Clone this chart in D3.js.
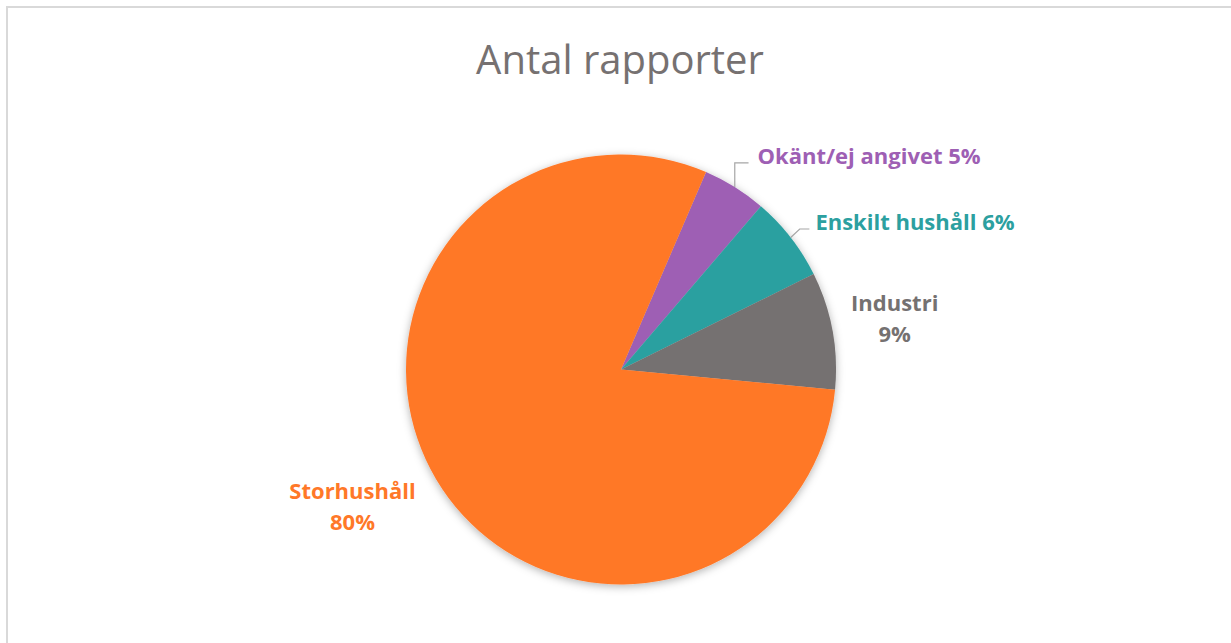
<!DOCTYPE html>
<html>
<head>
<meta charset="utf-8">
<script src="https://cdn.jsdelivr.net/npm/d3@7"></script>
<style>
  body { margin: 0; background: #fff; }
  svg { display: block; }
</style>
</head>
<body>
<div id="chart"></div>
<script>
// data (share of reports, %)
var categories = ['Okänt/ej angivet', 'Enskilt hushåll', 'Industri', 'Storhushåll'];
var values = [4.8, 6.4, 8.8, 79.9];
var colors = ['#9e5fb4', '#2ca0a0', '#757171', '#ff7828'];
var title = 'Antal rapporter';

var width = 1231, height = 643;
var cx = 621, cy = 369.5, r = 215;

// label layout per slice: radius factor, offsets, one line or two, leader
var labelLayout = {
    'Okänt/ej angivet': { k: 1.165, dx: 4, dy: 0, twoLines: false, leader: 'elbow' },
    'Enskilt hushåll': { k: 1.11, dx: 6, dy: 0, twoLines: false, leader: 'elbow' },
    'Industri': { k: 1.29, dx: 1, dy: 0, twoLines: true, leader: null },
    'Storhushåll': { k: 1.36, dx: -17, dy: -12, twoLines: true, leader: null }
};

var svg = d3.select('#chart').append('svg')
    .attr('width', width)
    .attr('height', height);

// chart area border (runs off right and bottom edges)
svg.append('rect')
    .attr('x', 7).attr('y', 7)
    .attr('width', width).attr('height', height)
    .attr('fill', '#fff')
    .attr('stroke', '#d9d9d9')
    .attr('stroke-width', 2);

svg.append('text')
    .attr('x', 620)
    .attr('y', 74)
    .attr('text-anchor', 'middle')
    .style('font-family', '"Open Sans", sans-serif')
    .style('font-weight', 400)
    .style('font-size', '40px')
    .style('fill', '#767171')
    .text(title);

var defs = svg.append('defs');
var f = defs.append('filter').attr('id', 'shadow')
    .attr('x', '-20%').attr('y', '-20%').attr('width', '140%').attr('height', '140%');
f.append('feDropShadow')
    .attr('dx', 0).attr('dy', 2)
    .attr('stdDeviation', 4)
    .attr('flood-color', '#000')
    .attr('flood-opacity', 0.3);

var startAngle = 23.3 * Math.PI / 180;
var pie = d3.pie().sort(null).value(function(d){ return d; })
    .startAngle(startAngle).endAngle(startAngle + 2 * Math.PI);
var arcs = pie(values);
var total = d3.sum(values);

var arc = d3.arc().innerRadius(0).outerRadius(r);

var g = svg.append('g').attr('transform', 'translate(' + cx + ',' + cy + ')');

g.append('g').attr('filter', 'url(#shadow)')
    .selectAll('path')
    .data(arcs)
    .enter().append('path')
    .attr('d', arc)
    .attr('fill', function(d, i){ return colors[i]; });

function polar(a, rad){
    return [Math.sin(a) * rad, -Math.cos(a) * rad];
}

arcs.forEach(function(d, i){
    var name = categories[i];
    var lay = labelLayout[name];
    var mid = (d.startAngle + d.endAngle) / 2;
    var p = polar(mid, r * lay.k);
    var pct = Math.round(d.value / total * 100) + '%';
    var lx = p[0] + lay.dx, ly = p[1] + lay.dy;

    var t = g.append('text')
        .style('font-family', '"Open Sans", sans-serif')
        .style('font-weight', 700)
        .style('font-size', '22px')
        .style('fill', colors[i]);

    if (lay.twoLines) {
        t.attr('text-anchor', 'middle');
        t.append('tspan').attr('x', lx).attr('y', ly - 8).text(name);
        t.append('tspan').attr('x', lx).attr('y', ly + 23).text(pct);
    } else {
        t.attr('text-anchor', 'start')
            .attr('x', lx).attr('y', ly + 7)
            .text(name + ' ' + pct);
    }

    if (lay.leader) {
        var a0 = polar(mid, r);
        var elbowY = ly + 6;
        var pts;
        if (name === 'Okänt/ej angivet') {
            pts = [a0, [a0[0], elbowY], [lx - 9, elbowY]];
        } else {
            pts = [a0, [a0[0] + 9, elbowY], [lx - 6, elbowY]];
        }
        g.append('path')
            .attr('d', d3.line()(pts))
            .attr('fill', 'none')
            .attr('stroke', '#a6a6a6')
            .attr('stroke-width', 1.2);
    }
});
</script>
</body>
</html>
